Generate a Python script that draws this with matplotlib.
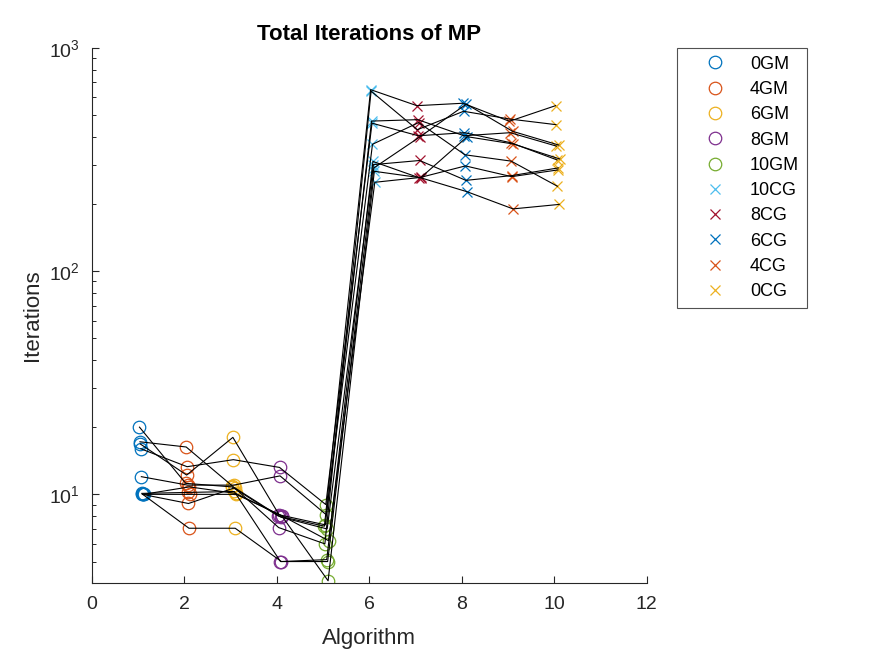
import numpy as np
import matplotlib
matplotlib.use("Agg")
import matplotlib.pyplot as plt
from matplotlib.ticker import LogLocator, NullFormatter

# algoritmos (eje x) y nombres de leyenda
algoritmos = np.arange(1, 11)
nombres = ["0GM", "4GM", "6GM", "8GM", "10GM", "10CG", "8CG", "6CG", "4CG", "0CG"]
colores = ["#0072BD", "#D95319", "#EDB120", "#7E2F8E", "#77AC30",
           "#4DBEEE", "#A2142F", "#0072BD", "#D95319", "#EDB120"]
marcadores = ["o"] * 5 + ["x"] * 5

# iteraciones por prueba (una fila por prueba, una columna por algoritmo)
prueba_1 = [20.0, 11.2, 10.8, 8.0, 7.2, 650, 551, 565, 469, 551]
prueba_2 = [17.2, 16.3, 10.9, 7.1, 6.0, 640, 430, 520, 480, 453]
prueba_3 = [16.8, 12.2, 18.0, 8.1, 7.3, 470, 477, 404, 417, 363]
prueba_4 = [16.0, 13.3, 14.3, 13.2, 9.0, 460, 404, 417, 376, 315]
prueba_5 = [12.0, 11.0, 11.0, 12.1, 8.1, 370, 463, 332, 311, 240]
prueba_6 = [10.1, 10.2, 10.3, 5.0, 5.1, 310, 262, 296, 265, 284]
prueba_7 = [10.0, 9.1, 10.7, 7.9, 7.0, 300, 313, 255, 268, 290]
prueba_8 = [10.0, 7.05, 7.05, 5.0, 5.0, 290, 400, 560, 423, 367]
prueba_9 = [10.0, 10.8, 10.1, 8.0, 4.1, 280, 262, 227, 190, 199]
prueba_10 = [10.0, 10.0, 10.0, 8.0, 6.2, 250, 263, 400, 371, 318]
pruebas = np.array([prueba_1, prueba_2, prueba_3, prueba_4, prueba_5,
                    prueba_6, prueba_7, prueba_8, prueba_9, prueba_10])

plt.rcParams['font.family'] = ['Liberation Sans', 'DejaVu Sans']
plt.rcParams['mathtext.fontset'] = 'custom'
plt.rcParams['mathtext.rm'] = 'Liberation Sans'

fig = plt.figure(figsize=(8.75, 6.56), dpi=100)
ax = fig.add_axes([0.105, 0.111, 0.634, 0.816])

n = len(pruebas)
desfase = 0.03 + 0.01 * np.arange(n)

# marcadores por algoritmo
for j in range(len(algoritmos)):
    xs = algoritmos[j] + desfase
    if marcadores[j] == "o":
        ax.plot(xs, pruebas[:, j], linestyle="none", marker="o", ms=9,
                mfc="none", mec=colores[j], mew=0.9, label=nombres[j])
    else:
        ax.plot(xs, pruebas[:, j], linestyle="none", marker="x", ms=7,
                mec=colores[j], mew=0.9, label=nombres[j])

# lineas de cada prueba
for i in range(n):
    ax.plot(algoritmos + desfase[i], pruebas[i], color="black", lw=0.8, zorder=3)

ax.set_yscale("log")
ax.set_xlim(0, 12)
ax.set_ylim(4, 1000)
ax.set_xticks(np.arange(0, 13, 2))
ax.set_yticks([10, 100, 1000])
ax.yaxis.set_minor_locator(LogLocator(base=10, subs=np.arange(2, 10)))
ax.yaxis.set_minor_formatter(NullFormatter())
ax.tick_params(direction="in", labelsize=14, length=5, width=0.8, color="#262626",
               labelcolor="#262626", pad=9)
ax.tick_params(which="minor", direction="in", length=3, width=0.6)
for s in ["top", "right"]:
    ax.spines[s].set_visible(False)
for s in ["left", "bottom"]:
    ax.spines[s].set_color("#262626")
    ax.spines[s].set_linewidth(0.8)

ax.set_title("Total Iterations of MP", fontsize=16, fontweight="bold", pad=6)
ax.set_xlabel("Algorithm", fontsize=16, color="#262626", labelpad=11)
ax.set_ylabel("Iterations", fontsize=16, color="#262626", labelpad=4)

leg = ax.legend(loc="upper left", bbox_to_anchor=(0.774, 0.927),
                bbox_transform=fig.transFigure, fontsize=13, frameon=True,
                fancybox=False, edgecolor="#262626", labelspacing=0.46,
                handlelength=3.3, handletextpad=0.3, borderpad=0.43,
                borderaxespad=0)
leg.get_frame().set_linewidth(0.8)

fig.savefig("out.png", dpi=100)
